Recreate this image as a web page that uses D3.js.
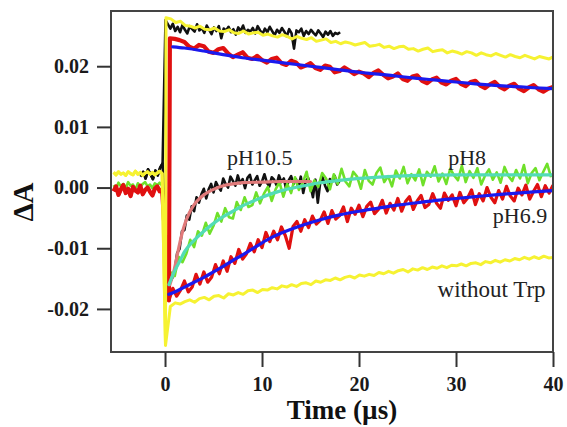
<!DOCTYPE html>
<html><head><meta charset="utf-8">
<script src="https://cdn.jsdelivr.net/npm/d3@7"></script>
<style>body{margin:0;background:#fff}</style>
</head><body><svg id="c" width="567" height="427"></svg>
<script>
// ---- DATA (ΔA values in units of 0.001) ----
const xDomain = [-5.57, 40];
const yDomain = [-27.1, 29.1];
const xTicks = [0, 10, 20, 30, 40];
const xTickLabels = ["0", "10", "20", "30", "40"];
const yTicks = [-20, -10, 0, 10, 20];
const yTickLabels = ["-0.02", "-0.01", "0.00", "0.01", "0.02"];
const xLabel = "Time (µs)";
const yLabel = "ΔA";

// sampling (start time, step) for each recorded trace
const preT0 = -5.3, preDt = 0.25;
const blackPreT0 = -2.5;

const yellowPre = [2.5,2.1,2.6,2.2,2.4,2.0,2.6,2.3,2.1,2.7,2.2,2.5,2.0,2.4,2.6,2.2,2.5,2.1,2.4,2.7,2.3];
const greenPre  = [0.4,-0.2,0.8,0.2,0.6,-0.1,0.9,0.3,0.5,-0.3,0.7,0.1,0.6,0.9,0.2,0.5,-0.1,0.7,0.4,0.8,0.3];
const redPre    = [-0.6,0.2,-1.2,-0.3,0.4,-0.9,-0.2,-1.4,0.1,-0.5,-0.8,0.3,-1.1,-0.4,0.0,-0.7,-1.3,-0.2,0.2,-0.6,-0.3];
const blackPre  = [1.8,2.6,1.5,3.0,2.2,1.4,2.8,2.0,3.3,4.0];

// pH10.5 (black): top t = 0.05.. step 0.25, bottom t = 0.25.. step 0.25
const blackTop = [27.6,
 26.9,26.2,27.0,25.8,26.5,25.6,26.8,26.0,25.4,26.6,26.1,25.7,26.9,25.9,26.3,25.5,26.7,26.0,25.3,26.4,
 25.8,26.6,24.6,26.2,25.9,26.5,25.6,26.1,25.2,26.4,25.8,26.7,25.5,26.0,25.7,26.3,25.4,26.6,25.9,25.3,
 26.2,25.6,26.5,25.8,25.1,26.0,25.5,26.3,25.7,24.9,26.1,25.4,22.9,25.9,25.6,26.2,25.0,25.8,25.3,26.0,
 25.5,25.1,25.9,25.4,24.8,25.7,25.2,25.8,25.0,25.5,25.3,25.6];
const blackLow = [
 -16.8,-15.6,-14.9,-13.6,-10.8,-10.1,-7.2,-7.0,-4.6,-5.3,-3.1,-3.9,-1.6,-2.5,-1.1,-0.2,-1.8,-0.3,0.6,-0.8,
 0.9,0.1,-0.5,1.5,0.6,0.0,1.8,1.1,0.3,2.0,0.7,1.4,-0.1,1.6,2.1,0.5,1.2,1.9,0.3,1.0,
 2.2,0.8,0.2,1.7,1.3,0.4,2.0,0.9,1.5,-0.3,1.2,1.9,0.6,1.4,0.1,1.8,-0.9,1.0,1.6,0.4,
 -1.6,1.3,-2.5,0.8,1.7,0.3,-0.6,1.4,1.0,1.9,0.5,1.1];

// pH8 (green), t = 0.2.. step 0.4
const greenLow = [
 -15.5,-14.0,-14.6,-11.4,-12.3,-10.9,-8.6,-9.8,-7.2,-7.9,-5.8,-7.6,-6.3,-4.2,-5.6,-3.4,-4.9,-5.1,-2.4,-3.7,
 -1.6,-3.2,-2.9,-0.8,-2.6,-1.0,0.1,-2.2,-0.3,0.9,-1.5,0.6,-0.9,1.7,-0.4,0.8,2.6,-0.6,1.2,0.1,
 2.4,1.5,-0.3,2.2,0.6,3.1,1.0,0.2,2.6,1.8,-0.2,2.9,1.1,0.5,2.4,3.3,0.9,1.9,0.2,2.8,
 1.5,3.4,0.7,2.2,1.2,3.0,0.4,2.6,1.8,3.5,1.0,2.3,0.6,3.1,2.0,1.2,3.6,0.9,2.7,1.6,
 3.2,0.5,2.0,3.0,1.3,2.5,0.8,3.4,1.9,1.1,2.9,1.5,3.7,0.7,2.4,3.2,1.2,2.6,3.9,1.7];

// pH6.9 (red): top t = 0.5.. step 0.5, bottom t = 0.4.. step 0.4
const redTop = [
 24.6,24.5,24.3,24.0,23.2,22.9,23.5,23.3,22.4,22.2,22.8,23.0,22.1,21.5,21.9,22.3,21.4,21.2,21.7,21.0,
 20.6,21.2,21.4,20.5,20.2,20.9,20.6,19.8,20.1,20.5,19.7,19.4,20.1,19.9,19.0,19.2,19.8,19.3,18.7,19.1,
 18.8,18.2,18.9,19.3,18.6,18.0,18.3,18.8,17.9,17.6,18.3,18.5,17.6,17.2,17.8,18.1,17.3,17.0,17.6,17.9,
 17.1,16.7,17.4,17.6,16.8,16.4,17.0,17.4,16.6,16.2,16.8,17.1,16.3,15.9,16.5,16.9,16.2,15.8,16.3,16.6];
const redLow = [
 -18.6,-16.6,-17.9,-16.9,-15.4,-17.2,-16.4,-14.3,-15.9,-13.9,-15.6,-14.8,-12.7,-14.2,-12.1,-13.8,-11.4,-12.5,-10.2,-11.8,
 -10.9,-9.2,-10.6,-8.6,-9.9,-7.4,-8.9,-7.2,-8.6,-6.5,-7.9,-10.0,-6.4,-5.6,-7.2,-5.3,-6.6,-4.7,-6.0,-5.4,
 -4.0,-5.9,-3.8,-5.2,-4.6,-3.2,-5.6,-3.4,-4.4,-2.9,-4.8,-3.1,-2.4,-4.3,-3.6,-2.1,-4.2,-2.6,-3.7,-1.8,
 -3.9,-2.3,-1.5,-3.6,-2.2,-1.3,-3.3,-2.8,-1.0,-2.6,-3.4,-0.9,-2.1,-1.2,-3.0,-0.8,-2.5,-1.7,-0.4,-2.8,
 -1.0,-2.2,0.0,-1.6,-2.5,-0.5,-1.9,0.2,-1.4,-2.2,-0.1,-1.2,0.4,-1.9,-0.6,0.5,-1.5,0.3,-0.9,0.4];

// without Trp (yellow): top t = 0.1.. step 0.5, bottom t = 0.05.. step 0.5
const yellowTop = [28.0,
 27.8,27.2,27.4,26.7,26.6,26.3,26.6,26.1,26.0,26.3,25.8,25.7,26.0,25.5,25.4,25.8,25.3,25.5,25.6,25.1,
 25.3,25.0,24.8,25.2,24.9,24.5,24.9,24.6,24.4,24.7,24.1,24.3,24.5,23.9,24.1,23.7,24.0,23.8,23.5,23.7,
 23.9,23.3,23.4,23.6,23.1,23.3,22.9,23.2,23.3,22.8,22.9,22.5,22.8,23.0,22.4,22.6,22.7,22.2,22.5,22.3,
 22.0,22.4,22.2,21.8,22.2,21.9,21.7,22.1,21.8,21.5,21.9,21.6,21.4,21.8,21.5,21.2,21.6,21.4,21.2,21.6];
const yellowLow = [-26.0,
 -19.6,-19.0,-19.2,-18.8,-18.5,-18.9,-18.3,-18.1,-18.5,-17.9,-17.8,-18.2,-17.5,-17.7,-17.3,-17.6,-17.0,-16.9,-17.3,-16.8,
 -16.9,-16.5,-16.7,-16.2,-16.4,-16.0,-16.3,-15.8,-15.7,-16.0,-15.4,-15.6,-15.2,-15.3,-14.9,-15.2,-14.8,-14.6,-14.9,-14.4,
 -14.6,-14.3,-14.5,-14.0,-14.2,-13.8,-14.1,-13.7,-13.5,-13.9,-13.4,-13.6,-13.2,-13.5,-13.1,-13.3,-12.9,-13.2,-12.8,-12.9,
 -12.6,-12.9,-12.5,-12.4,-12.7,-12.2,-12.4,-12.0,-12.3,-11.9,-12.1,-11.7,-11.9,-11.5,-11.8,-11.4,-11.7,-11.3,-11.6,-11.5];

// fitted curves [t, value]
const pinkFit = [[0.5,-16.0],[0.75,-14.7],[1.0,-13.2],[1.25,-11.2],[1.5,-9.3],[1.75,-7.6],[2.0,-6.2],[2.5,-4.2],[3.0,-2.8],[3.5,-1.9],[4.0,-1.2],[4.5,-0.7],[5,-0.3],[6,0.3],[7,0.6],[8,0.8],[10,0.9],[12,1.0],[15,1.0]];
const tealFit = [[0.4,-16.0],[0.7,-14.8],[1,-13.7],[1.5,-12.2],[2,-10.6],[3,-8.7],[4,-7.2],[5,-5.9],[6,-4.8],[7,-3.9],[8,-3.0],[9,-2.3],[10,-1.6],[11,-1.0],[12,-0.5],[14,0.2],[16,0.8],[18,1.2],[20,1.5],[23,1.8],[26,2.0],[30,2.1],[35,2.1],[40,2.1]];
const blueTopFit = [[0.8,23.2],[2,23.0],[4,22.5],[6,21.9],[8,21.4],[10,21.0],[12,20.6],[14,20.2],[16,19.8],[18,19.4],[20,19.0],[22,18.7],[24,18.35],[26,18.0],[28,17.7],[30,17.4],[32,17.1],[34,16.85],[36,16.65],[38,16.45],[40,16.3]];
const blueLowFit = [[0.4,-17.6],[1,-17.2],[2,-16.4],[3,-15.6],[4,-14.8],[5,-13.9],[6,-13.0],[7,-12.0],[8,-11.1],[9,-10.1],[10,-9.1],[11,-8.2],[12,-7.5],[14,-6.3],[16,-5.3],[18,-4.5],[20,-3.9],[22,-3.4],[24,-2.9],[26,-2.5],[28,-2.1],[30,-1.8],[32,-1.5],[34,-1.2],[36,-0.95],[38,-0.7],[40,-0.5]];

const annotations = [
  {text: "pH10.5", t: 6.4, v: 3.7},
  {text: "pH8", t: 29.2, v: 3.7},
  {text: "pH6.9", t: 33.8, v: -5.9},
  {text: "without Trp", t: 28.1, v: -18.0, len: 108}
];

// ---- DRAW ----
const svg = d3.select("#c");
const L = 111, R = 553, T = 11, B = 352;
const x = d3.scaleLinear().domain(xDomain).range([L, R]);
const y = d3.scaleLinear().domain(yDomain).range([B, T]);
const seq = (t0, dt, vals) => vals.map((v, i) => [t0 + i * dt, v]);

const bPre = seq(blackPreT0, preDt, blackPre);
const yPre = seq(preT0, preDt, yellowPre);
const gPre = seq(preT0, preDt, greenPre);
const rPre = seq(preT0, preDt, redPre);
const bTop = seq(0.05, 0.25, blackTop), bLow = seq(0.25, 0.25, blackLow);
const gLow = seq(0.2, 0.4, greenLow);
const rTop = seq(0.5, 0.5, redTop), rLow = seq(0.4, 0.4, redLow);
const yTop = seq(0.1, 0.5, yellowTop), yLow = seq(0.05, 0.5, yellowLow);

svg.append("defs").append("clipPath").attr("id", "clip")
  .append("rect").attr("x", L).attr("y", T).attr("width", R - L).attr("height", B - T);

const line = d3.line().x(d => x(d[0])).y(d => y(d[1]));
const fitLine = d3.line().x(d => x(d[0])).y(d => y(d[1])).curve(d3.curveMonotoneX);

const g = svg.append("g").attr("clip-path", "url(#clip)");
const traces = [
  {d: [...bPre, ...bTop], c: "#111", w: 2.6},
  {d: [...bPre, ...bLow], c: "#111", w: 2.6},
  {d: [...gPre, ...gLow], c: "#6fe02a", w: 2.6},
  {d: [...rPre, ...rLow], c: "#e01010", w: 3.2},
  {d: [...rPre, rLow[0], ...rTop], c: "#e01010", w: 4.2},
  {d: [...yPre, ...yLow], c: "#f6f232", w: 3},
  {d: [...yPre, yLow[0], ...yTop], c: "#f6f232", w: 3}
];
traces.forEach(s => g.append("path").attr("d", line(s.d)).attr("fill", "none")
  .attr("stroke", s.c).attr("stroke-width", s.w).attr("stroke-linejoin", "round"));

[{d: pinkFit, c: "#e07a7a"}, {d: tealFit, c: "#52dcb6"}, {d: blueTopFit, c: "#1a1aee"}, {d: blueLowFit, c: "#1a1aee"}]
  .forEach(s => g.append("path").attr("d", fitLine(s.d)).attr("fill", "none")
    .attr("stroke", s.c).attr("stroke-width", 3.2).attr("stroke-linecap", "round"));

// frame
svg.append("rect").attr("x", L).attr("y", T).attr("width", R - L).attr("height", B - T)
  .attr("fill", "none").attr("stroke", "#444").attr("stroke-width", 2);

// axes
const xAxis = svg.append("g").attr("transform", `translate(0,${B})`)
  .call(d3.axisBottom(x).tickValues(xTicks).tickFormat((d, i) => xTickLabels[i]).tickSize(15).tickPadding(10));
const yAxis = svg.append("g").attr("transform", `translate(${L},0)`)
  .call(d3.axisLeft(y).tickValues(yTicks).tickFormat((d, i) => yTickLabels[i]).tickSize(14).tickPadding(8));
[xAxis, yAxis].forEach(a => {
  a.select(".domain").remove();
  a.selectAll(".tick line").attr("stroke", "#333").attr("stroke-width", 2);
  a.selectAll(".tick text").attr("fill", "#1a1a1a")
    .style("font-family", "'Liberation Serif', 'Times New Roman', serif")
    .style("font-weight", "bold").style("font-size", "20px");
});

svg.append("text").attr("x", 342).attr("y", 419).attr("text-anchor", "middle")
  .style("font-family", "'Liberation Serif', serif").style("font-weight", "bold").style("font-size", "27px")
  .attr("fill", "#111").text(xLabel);
svg.append("text").attr("transform", "translate(33,202) rotate(-90)").attr("text-anchor", "middle")
  .style("font-family", "'Liberation Serif', serif").style("font-weight", "bold").style("font-size", "29px")
  .attr("fill", "#111").text(yLabel);

annotations.forEach(a => {
  const t = svg.append("text").attr("x", x(a.t)).attr("y", y(a.v))
    .style("font-family", "'Liberation Serif', serif").style("font-size", a.len ? "23px" : "22px")
    .attr("fill", "#222").text(a.text);
  if (a.len) t.attr("textLength", a.len).attr("lengthAdjust", "spacing");
});
</script></body></html>
